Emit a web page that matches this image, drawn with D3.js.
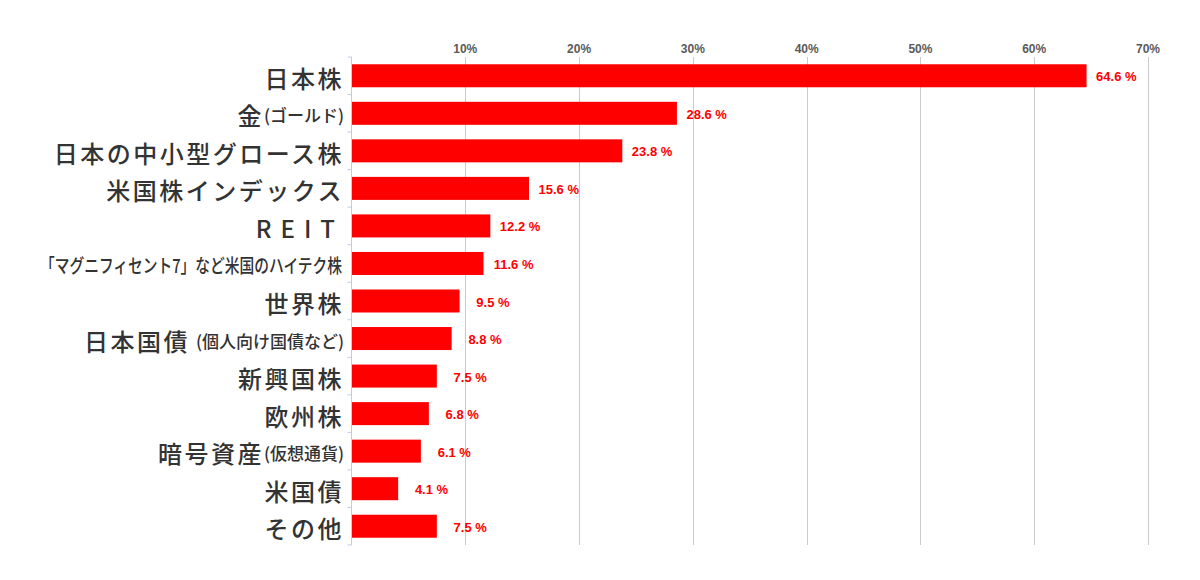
<!DOCTYPE html>
<html><head><meta charset="utf-8">
<script src="https://cdn.jsdelivr.net/npm/d3@7/dist/d3.min.js"></script>
<style>
body{margin:0;background:#fff;}
svg{display:block;}
</style>
</head><body>
<svg id="chart" width="1200" height="580"></svg>
<script>
const categories = [
  "日本株",
  "金(ゴールド)",
  "日本の中小型グロース株",
  "米国株インデックス",
  "REIT",
  "「マグニフィセント7」など米国のハイテク株",
  "世界株",
  "日本国債 (個人向け国債など)",
  "新興国株",
  "欧州株",
  "暗号資産(仮想通貨)",
  "米国債",
  "その他"
];
const values = [64.6, 28.6, 23.8, 15.6, 12.2, 11.6, 9.5, 8.8, 7.5, 6.8, 6.1, 4.1, 7.5];
const tickValues = [10, 20, 30, 40, 50, 60, 70];
const tickLabels = ["10%", "20%", "30%", "40%", "50%", "60%", "70%"];

const svg = d3.select("#chart");
const x0 = 351.5, x1 = 1148, yTop = 57, yBot = 545;

const x = d3.scaleLinear().domain([0, 70]).range([x0, x1]);
const y = d3.scaleBand().domain(categories).range([yTop, yBot])
  .paddingInner(0.387).paddingOuter(0.1935);
const bw = y.bandwidth();
const step = y.step();

// gridlines
svg.append("g").selectAll("line").data(tickValues).join("line")
  .attr("x1", d => Math.round(x(d)) + 0.5).attr("x2", d => Math.round(x(d)) + 0.5)
  .attr("y1", yTop).attr("y2", yBot)
  .attr("stroke", "#cacaca").attr("stroke-width", 1);

// tick labels
svg.append("g").selectAll("text").data(tickValues).join("text")
  .attr("x", d => x(d)).attr("y", 53)
  .attr("text-anchor", "middle")
  .attr("font-family", "'Liberation Sans', Arial, sans-serif")
  .attr("font-weight", "bold").attr("font-size", 12)
  .attr("fill", "#5a5a5a")
  .text((d, i) => tickLabels[i]);

// bars
svg.append("g").selectAll("rect").data(values).join("rect")
  .attr("x", x(0))
  .attr("y", (d, i) => y(categories[i]))
  .attr("width", d => x(d) - x(0))
  .attr("height", bw)
  .attr("fill", "#ff0000");

// y axis line + ticks at band boundaries
const ax = svg.append("g");
ax.append("line").attr("x1", x0).attr("x2", x0).attr("y1", yTop).attr("y2", yBot)
  .attr("stroke", "#bccde3").attr("stroke-width", 1);
ax.selectAll("line.tk").data(d3.range(categories.length + 1)).join("line")
  .attr("class", "tk")
  .attr("x1", x0 - 4).attr("x2", x0)
  .attr("y1", i => yTop + i * step).attr("y2", i => yTop + i * step)
  .attr("stroke", "#bccde3").attr("stroke-width", 1);

// value labels
svg.append("g").selectAll("text").data(values).join("text")
  .attr("x", d => x(d) + 50)
  .attr("y", (d, i) => y(categories[i]) + bw / 2 + 1)
  .attr("text-anchor", "end")
  .attr("dominant-baseline", "central")
  .attr("font-family", "'Liberation Sans', Arial, sans-serif")
  .attr("font-weight", "bold").attr("font-size", 13)
  .attr("fill", "#ff0000")
  .text(d => d.toFixed(1) + " %");

// category labels
const lab = svg.append("g")
  .attr("font-family", "'Noto Sans CJK JP', 'Noto Sans', sans-serif")
  .attr("font-weight", 500)
  .attr("fill", "#333333");
const labelRight = 344, maxW = 302;
categories.forEach((c, i) => {
  const m = c.match(/^([^(]*?)(\s*)(\(.*\))?$/);
  const t = lab.append("text")
    .attr("x", labelRight)
    .attr("y", y(c) + bw / 2 + 1)
    .attr("text-anchor", "end")
    .attr("dominant-baseline", "central");
  const latin = /^[A-Z]+$/.test(m[1]);
  t.append("tspan").text(m[1])
    .attr("font-size", 24)
    .attr("letter-spacing", latin ? 9 : 2.5);
  if (m[3]) {
    t.append("tspan").text(m[3])
      .attr("dx", m[2] ? 6 : 0)
      .attr("font-size", 17)
      .attr("letter-spacing", 0);
  }
  if (t.node().getComputedTextLength() > maxW) {
    t.selectAll("tspan").attr("font-size", 19).attr("letter-spacing", 0);
    t.attr("x", labelRight - 2).attr("textLength", maxW).attr("lengthAdjust", "spacingAndGlyphs");
  }
});
</script>
</body></html>
